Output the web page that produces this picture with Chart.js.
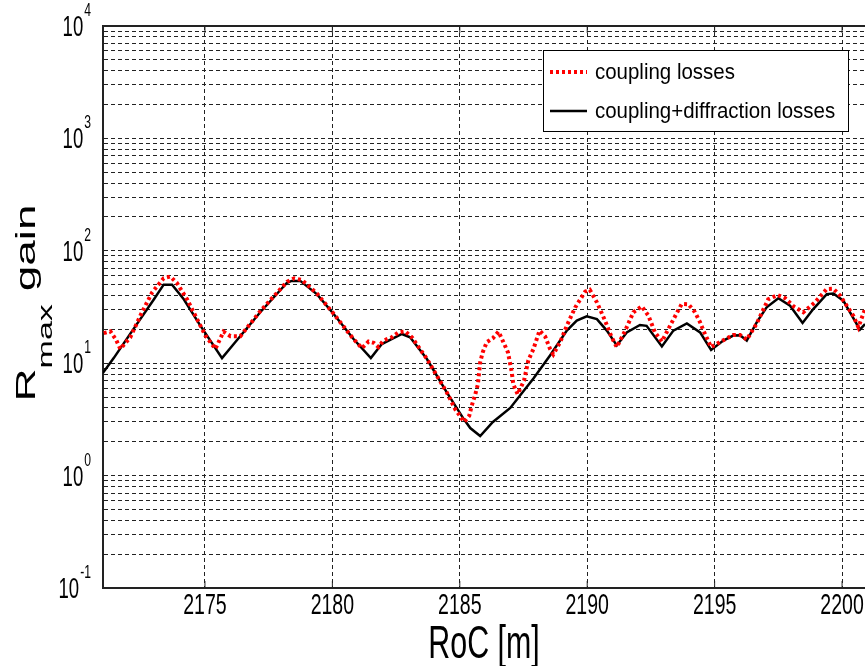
<!DOCTYPE html>
<html>
<head>
<meta charset="utf-8">
<title>Rmax gain vs RoC</title>
<script src="https://cdn.jsdelivr.net/npm/chart.js@4.4.0/dist/chart.umd.min.js"></script>
<style>
  html, body { margin: 0; padding: 0; background: #fff; }
  #wrap { width: 865px; height: 666px; }
</style>
</head>
<body>
<div id="wrap"><canvas id="gainChart" width="865" height="666"></canvas></div>
<script>
// coupling losses only (red dotted)
const rocRed = [2171.03, 2171.29, 2171.51, 2171.68, 2172.07, 2172.53, 2172.93, 2173.38, 2173.64, 2173.9,
  2174.3, 2174.69, 2175.02, 2175.41, 2175.73, 2176.0, 2176.39, 2177.17, 2178.22, 2178.5,
  2178.8, 2179.4, 2180.05, 2180.83, 2181.16, 2181.42, 2181.62, 2181.81, 2182.0, 2182.33,
  2182.59, 2182.86, 2183.12, 2183.71, 2184.49, 2184.82, 2185.17, 2185.37, 2185.47, 2185.6,
  2185.71, 2185.8, 2185.9, 2186.06, 2186.3, 2186.52, 2186.71, 2186.89, 2187.04, 2187.1,
  2187.27, 2187.52, 2187.69, 2187.89, 2188.13, 2188.35, 2188.54, 2188.67, 2188.94, 2189.2,
  2189.53, 2189.92, 2190.1, 2190.38, 2190.7, 2190.96, 2191.16, 2191.49, 2191.81, 2192.14,
  2192.4, 2192.66, 2192.93, 2193.32, 2193.71, 2193.97, 2194.23, 2194.43, 2194.56, 2194.86,
  2195.34, 2195.73, 2196.0, 2196.26, 2196.65, 2197.1, 2197.47, 2197.76, 2198.1, 2198.48,
  2198.94, 2199.4, 2199.66, 2199.92, 2200.44, 2200.64, 2200.9];
const gainRed = [18.5, 19.2, 16.2, 13.4, 17, 28.4, 42.7, 57, 59, 51.7,
  37, 24.7, 17.6, 13.4, 19.1, 17.4, 17.4, 29, 53, 57,
  55, 41.5, 27.5, 16.4, 13.6, 15.6, 15.2, 13.9, 15.9, 17,
  18.8, 19.2, 17, 10.9, 5.5, 3.9, 3.0, 3.4, 4.2, 5.2,
  6.5, 10.2, 12.5, 15.4, 16.7, 19.1, 15.4, 12.5, 8.3, 6.5,
  5.3, 7.0, 10.6, 13.4, 19.5, 17.3, 13.4, 12.0, 15.4, 21.6,
  31.4, 43.4, 45, 34.8, 23.9, 17, 13.9, 19.5, 28.4, 32,
  26.5, 18.8, 15.6, 23.1, 33.7, 33.5, 28.4, 23.1, 19.5, 13.9,
  16, 17.8, 17.8, 16.2, 22.5, 37, 40.4, 38, 32, 28.4,
  34.8, 45.7, 46, 40, 26.5, 20.9, 30.3];

// coupling + diffraction losses (black solid)
const rocBlack = [2171.0, 2171.42, 2172.2, 2173.0, 2173.38, 2173.71, 2174.17, 2174.82, 2175.67, 2176.13,
  2177.17, 2178.22, 2178.4, 2178.74, 2179.4, 2180.05, 2180.83, 2181.51, 2181.94, 2182.4,
  2182.73, 2183.05, 2183.71, 2184.49, 2185.15, 2185.41, 2185.8, 2186.3, 2186.98, 2187.89,
  2188.54, 2189.2, 2189.59, 2189.98, 2190.38, 2190.77, 2191.16, 2191.55, 2192.07, 2192.33,
  2192.93, 2193.38, 2193.91, 2194.43, 2194.86, 2195.34, 2195.73, 2196.0, 2196.26, 2196.65,
  2197.04, 2197.5, 2197.96, 2198.45, 2198.87, 2199.4, 2199.66, 2200.05, 2200.7, 2200.9];
const gainBlack = [8.2, 11.1, 20.2, 37, 50, 50, 37, 21.6, 11.1, 14.8,
  28.4, 52, 54, 54, 41, 27.4, 16.4, 11.1, 14.8, 16.7,
  18.2, 17, 10.9, 5.5, 3.2, 2.65, 2.25, 3.0, 4.0, 7.3,
  11.7, 19.5, 23.9, 26.1, 24.7, 19.5, 14.4, 18.8, 21.9, 21.5,
  14.1, 19.5, 22.6, 18.8, 13.1, 15.9, 17.6, 17.7, 15.9, 23.1,
  31.4, 37.8, 32.5, 22.8, 30.3, 41.2, 41.7, 36, 19.9, 22.3];

const seriesNames = ['coupling losses', 'coupling+diffraction losses'];
const rocTicks = [2175, 2180, 2185, 2190, 2195, 2200];
const decadeValues = [0.1, 1, 10, 100, 1000, 10000];
const decadeExponents = ['-1', '0', '1', '2', '3', '4'];
const xTitle = 'RoC [m]';

const SANS = '"Liberation Sans", Arimo, Arial, sans-serif';

// log grid: 1..9 in every decade, then the top decade
const gainGrid = [];
decadeValues.slice(0, -1).forEach(d => {
  for (let m = 1; m <= 9; m++) gainGrid.push(+(m * d).toPrecision(3));
});
gainGrid.push(decadeValues[decadeValues.length - 1]);

const toPoints = (xs, ys) => xs.map((x, i) => ({x: x, y: ys[i]}));

// text squeezed sideways, like the stretched matlab export
function squeezed(ctx, text, x, y, size, sx, align, weight) {
  ctx.save();
  ctx.font = `${weight || 'normal'} ${size}px ${SANS}`;
  ctx.textAlign = align;
  ctx.textBaseline = 'alphabetic';
  ctx.translate(x, y);
  ctx.scale(sx, 1);
  ctx.fillText(text, 0, 0);
  ctx.restore();
}

function textWidth(ctx, text, size) {
  ctx.save();
  ctx.font = `normal ${size}px ${SANS}`;
  const w = ctx.measureText(text).width;
  ctx.restore();
  return w;
}

// frame, inward ticks, tick labels, titles and the inside legend
const matlabBits = {
  id: 'matlabBits',
  afterDraw(chart) {
    const ctx = chart.ctx;
    const area = chart.chartArea;
    const xs = chart.scales.x;
    const ys = chart.scales.y;

    ctx.save();
    ctx.strokeStyle = '#222';
    ctx.lineWidth = 2;
    ctx.beginPath();
    ctx.moveTo(area.left, area.top);
    ctx.lineTo(area.right, area.top);
    ctx.stroke();
    ctx.lineWidth = 1;
    rocTicks.forEach(v => {
      const px = xs.getPixelForValue(v);
      ctx.beginPath();
      ctx.moveTo(px, area.bottom);
      ctx.lineTo(px, area.bottom - 7);
      ctx.moveTo(px, area.top);
      ctx.lineTo(px, area.top + 7);
      ctx.stroke();
    });
    ctx.restore();

    ctx.fillStyle = '#000';

    // x tick labels
    rocTicks.forEach(v => {
      squeezed(ctx, String(v), xs.getPixelForValue(v), area.bottom + 26, 30, 0.65, 'center');
    });

    // y tick labels 10^k, right aligned
    const baseSize = 29, expSize = 19, sx = 0.64;
    decadeValues.forEach((v, i) => {
      const py = ys.getPixelForValue(v);
      const wExp = textWidth(ctx, decadeExponents[i], expSize) * sx;
      const right = area.left - 12;
      squeezed(ctx, decadeExponents[i], right, py - 10, expSize, sx, 'right');
      squeezed(ctx, '10', right - wExp - 1, py + 10, baseSize, sx, 'right');
    });

    // x title
    squeezed(ctx, xTitle, (area.left + area.right) / 2, area.bottom + 70, 46, 0.66, 'center');

    // y title: R_max gain
    const big = 46, small = 34, subShift = 27;
    ctx.save();
    ctx.textBaseline = 'alphabetic';
    ctx.font = `normal ${big}px ${SANS}`;
    const wR = ctx.measureText('R').width;
    const wGain = ctx.measureText(' gain').width;
    ctx.font = `normal ${small}px ${SANS}`;
    const wMax = ctx.measureText('max').width;
    const total = wR + wMax + wGain;
    ctx.translate(35, (area.top + area.bottom) / 2 + total / 2 - 4);
    ctx.rotate(-Math.PI / 2);
    ctx.scale(1, 0.62);
    ctx.font = `normal ${big}px ${SANS}`;
    ctx.fillText('R', 0, 0);
    ctx.fillText(' gain', wR + wMax, 0);
    ctx.font = `normal ${small}px ${SANS}`;
    ctx.fillText('max', wR, subShift);
    ctx.restore();

    // legend box
    const bx = area.right - 322, by = area.top + 24, bw = 305, bh = 81;
    ctx.save();
    ctx.fillStyle = '#fff';
    ctx.fillRect(bx, by, bw, bh);
    ctx.strokeStyle = '#000';
    ctx.lineWidth = 1;
    ctx.strokeRect(bx + 0.5, by + 0.5, bw, bh);
    chart.data.datasets.forEach((ds, i) => {
      const ly = by + 22 + i * 39;
      ctx.strokeStyle = ds.borderColor;
      ctx.lineWidth = ds.borderWidth;
      ctx.setLineDash(ds.borderDash || []);
      ctx.beginPath();
      ctx.moveTo(bx + 7, ly);
      ctx.lineTo(bx + 44, ly);
      ctx.stroke();
      ctx.setLineDash([]);
      ctx.fillStyle = '#000';
      squeezed(ctx, ds.label, bx + 52, ly + 7, 22, 0.93, 'left');
    });
    ctx.restore();
  }
};

const ctx = document.getElementById('gainChart').getContext('2d');
const gainChart = new Chart(ctx, {
  type: 'line',
  data: {
    datasets: [
      {
        label: seriesNames[0],
        data: toPoints(rocRed, gainRed),
        borderColor: '#ff0000',
        borderWidth: 4,
        borderDash: [3, 3],
        pointRadius: 0,
        tension: 0,
        fill: false
      },
      {
        label: seriesNames[1],
        data: toPoints(rocBlack, gainBlack),
        borderColor: '#000000',
        borderWidth: 2.5,
        pointRadius: 0,
        tension: 0,
        fill: false
      }
    ]
  },
  options: {
    responsive: false,
    animation: false,
    devicePixelRatio: 1,
    layout: { padding: { top: 26, right: 0, left: 0, bottom: 0 } },
    plugins: {
      legend: { display: false },
      tooltip: { enabled: false }
    },
    scales: {
      x: {
        type: 'linear',
        min: 2171,
        max: 2200.9,
        afterBuildTicks: scale => { scale.ticks = rocTicks.map(v => ({value: v})); },
        afterFit: scale => { scale.height = 78; scale.paddingLeft = 0; scale.paddingRight = 0; },
        grid: { color: '#222', lineWidth: 1, drawTicks: false },
        border: { color: '#222', width: 2, dash: [4, 3] },
        ticks: { display: false }
      },
      y: {
        type: 'logarithmic',
        min: 0.1,
        max: 10000,
        afterBuildTicks: scale => { scale.ticks = gainGrid.map(v => ({value: v})); },
        afterFit: scale => { scale.width = 103; scale.paddingTop = 0; scale.paddingBottom = 0; },
        grid: { color: '#222', lineWidth: 1, drawTicks: false },
        border: { color: '#222', width: 2, dash: [4, 3] },
        ticks: { display: false }
      }
    }
  },
  plugins: [matlabBits]
});
</script>
</body>
</html>
